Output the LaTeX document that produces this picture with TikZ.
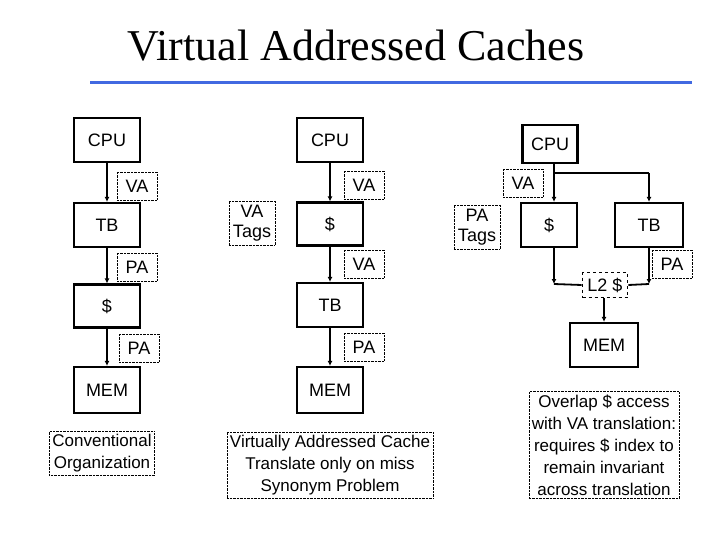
\documentclass[tikz,border=0pt]{standalone}
\usepackage{fontspec}
\setmainfont{Liberation Sans}
\newfontfamily\titlefont{Liberation Serif}
\usetikzlibrary{arrows.meta}
\definecolor{rule}{RGB}{65,105,225}
\begin{document}
\begin{tikzpicture}[x=1pt,y=-1pt,
  blk/.style={draw,line width=2.2pt,font=\fontsize{18}{20}\selectfont,inner sep=0},
  lab/.style={draw,densely dotted,thin,font=\fontsize{18}{20}\selectfont,inner sep=4pt,minimum width=40,minimum height=28,align=center},
  note/.style={draw,densely dotted,thin,font=\fontsize{17}{22}\selectfont,inner sep=3pt,align=center},
  arr/.style={line width=1.8pt,-{Latex[length=5pt,width=5pt]}},
  ln/.style={line width=1.8pt}]
\useasboundingbox (0,0) rectangle (720,540);
\node[font=\titlefont\fontsize{44}{48}\selectfont] (title) at (356,46) {Virtual Addressed Caches};
\draw[rule,line width=3pt] (90,83) -- (692,83);
% conventional
\node[blk,minimum width=66,minimum height=44] (a1) at (107,140) {CPU};
\node[blk,minimum width=66,minimum height=44] (a2) at (107,225) {TB};
\node[blk,minimum width=66,minimum height=43] (a3) at (107,306) {\$};
\node[blk,minimum width=66,minimum height=46] (a4) at (107,390) {MEM};
\draw[arr] (a1) -- (a2);
\draw[arr] (a2) -- (a3);
\draw[arr] (a3) -- (a4);
\node[lab] (av) at (137,186) {VA};
\node[lab] (ap1) at (137,267) {PA};
\node[lab] (ap2) at (139,348) {PA};
\node[note] (an) at (102,453) {Conventional\\Organization};
% virtually addressed
\node[blk,minimum width=66,minimum height=44] (b1) at (330,140) {CPU};
\node[blk,minimum width=66,minimum height=43] (b2) at (330,224) {\$};
\node[blk,minimum width=66,minimum height=44] (b3) at (330,305) {TB};
\node[blk,minimum width=66,minimum height=46] (b4) at (330,390) {MEM};
\draw[arr] (b1) -- (b2);
\draw[arr] (b2) -- (b3);
\draw[arr] (b3) -- (b4);
\node[lab] (bt) at (252,223) {VA\\Tags};
\node[lab] (bv1) at (364,185) {VA};
\node[lab] (bv2) at (364,264) {VA};
\node[lab] (bp) at (364,347) {PA};
\node[note] (bn) at (330,465) {Virtually Addressed Cache\\Translate only on miss\\Synonym Problem};
% overlapped
\node[blk,minimum width=55,minimum height=38] (c1) at (550,144) {CPU};
\node[blk,minimum width=56,minimum height=44] (c2) at (549,225) {\$};
\node[blk,minimum width=68,minimum height=44] (c3) at (649,225) {TB};
\node[draw,dashed,line width=1.8pt,font=\fontsize{18}{20}\selectfont,minimum width=45,minimum height=25,inner sep=0] (c4) at (605,285) {L2 \$};
\node[blk,minimum width=68,minimum height=44] (c5) at (604,345) {MEM};
\coordinate (k0) at (554,173);
\coordinate (k1) at (649,173);
\coordinate (k2) at (554,284);
\coordinate (k3) at (649,284);
\draw[arr] (c1.south -| k0) -- (c2.north -| k0);
\draw[ln] (k0) -- (k1);
\draw[arr] (k1) -- (c3.north -| k1);
\draw[arr] (c2.south -| k2) -- (k2);
\draw[ln] (k2) -- (c4.west);
\draw[arr] (c3.south -| k3) -- (k3);
\draw[ln] (k3) -- (c4.east);
\draw[arr] (c4.south -| c5) -- (c5.north);
\node[lab] (cv) at (523,183) {VA};
\node[lab] (ct) at (477,227) {PA\\Tags};
\node[lab] (cp) at (672,264) {PA};
\node[note] (cn) at (604,445) {Overlap \$ access\\with VA translation:\\requires \$ index to\\remain invariant\\across translation};
\end{tikzpicture}
\end{document}
